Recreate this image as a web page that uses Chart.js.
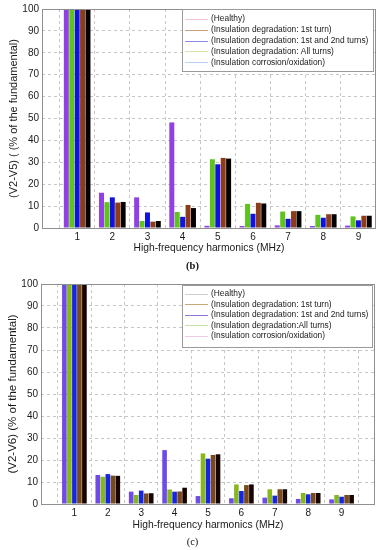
<!DOCTYPE html>
<html><head><meta charset="utf-8">
<script src="https://cdn.jsdelivr.net/npm/chart.js@4/dist/chart.umd.min.js"></script>
<style>
html,body{margin:0;padding:0;background:#fff}
body{width:381px;height:550px;position:relative;overflow:hidden;font-family:"Liberation Sans",Arial,sans-serif}
.wrap{position:absolute;left:0;width:381px;height:275px}
.cap{position:absolute;left:2px;width:381px;text-align:center;font-family:"Liberation Serif","Times New Roman",serif;font-size:10.5px;color:#111}
</style></head><body>
<div class="wrap" style="top:0"><canvas id="cb" width="381" height="275"></canvas></div>
<div class="cap" style="top:260px;font-weight:bold">(b)</div>
<div class="wrap" style="top:275px"><canvas id="cc" width="381" height="275"></canvas></div>
<div class="cap" style="top:536px">(c)</div>
<script>
// ---- data ----
const harmonics = [1, 2, 3, 4, 5, 6, 7, 8, 9];
const seriesNamesB = ['(Healthy)', '(Insulation degradation: 1st turn)', '(Insulation degradation: 1st and 2nd turns)', '(Insulation degradation: All turns)', '(Insulation corrosion/oxidation)'];
const seriesNamesC = ['(Healthy)', '(Insulation degradation: 1st turn)', '(Insulation degradation: 1st and 2nd turns)', '(Insulation degradation:All turns)', '(Insulation corrosion/oxidation)'];

// (b) V2-V5
const b_healthy   = [100, 16.1, 14.0, 48.2, 1.0, 0.9, 1.2, 0.9, 1.1];
const b_deg1st    = [100, 11.8, 3.2, 7.3, 31.4, 11.0, 7.5, 6.0, 5.3];
const b_deg12     = [100, 14.0, 7.1, 5.1, 29.1, 6.5, 4.2, 4.7, 3.5];
const b_degAll    = [100, 11.6, 2.9, 10.5, 32.0, 11.5, 7.7, 6.3, 5.6];
const b_corrosion = [100, 11.9, 3.2, 9.1, 31.7, 11.2, 7.7, 6.3, 5.6];

// (c) V2-V6
const c_healthy   = [100, 13.2, 5.6, 24.5, 3.6, 2.6, 2.9, 2.3, 2.1];
const c_deg1st    = [100, 12.4, 4.1, 6.6, 23.0, 8.9, 6.7, 5.0, 4.1];
const c_deg12     = [100, 13.6, 6.1, 5.6, 20.6, 5.9, 3.8, 4.4, 3.3];
const c_degAll    = [100, 12.9, 4.8, 5.7, 22.3, 8.6, 6.7, 5.0, 4.1];
const c_corrosion = [100, 12.8, 4.9, 7.4, 22.6, 8.9, 6.7, 5.0, 4.1];

const yTicks = [0, 10, 20, 30, 40, 50, 60, 70, 80, 90, 100];

// ---- styles ----
const barColorsB = ['#9140e4', '#5ec41c', '#1212e0', '#8c3c18', '#050000'];
const barColorsC = ['#6e4ae6', '#86b81e', '#1626e0', '#7a4a1c', '#160400'];
const legColorsB = ['#f2c4d6', '#c9a27e', '#8a8ae6', '#d6e4a8', '#bcd0f2'];
const legColorsC = ['#cfcfcf', '#c8a676', '#9474d8', '#c4e2a8', '#eccbe8'];

const FONT = '"Liberation Sans", Arial, Helvetica, sans-serif';

const framePlugin = {
  id: 'frameAndLegend',
  afterDraw(chart, args, opts) {
    const ctx = chart.ctx, a = chart.chartArea;
    ctx.save();
    ctx.strokeStyle = '#8f8f8f';
    ctx.lineWidth = 1;
    ctx.strokeRect(Math.round(a.left) + 0.5, Math.round(a.top) + 0.5, Math.round(a.right - a.left) - 1, Math.round(a.bottom - a.top));
    // legend box
    const L = opts;
    ctx.fillStyle = '#ffffff';
    ctx.fillRect(L.x, L.y, L.w, L.h);
    ctx.strokeStyle = '#9a9a9a';
    ctx.strokeRect(L.x + 0.5, L.y + 0.5, L.w, L.h);
    ctx.font = L.fontSize + 'px ' + FONT;
    ctx.textBaseline = 'middle';
    ctx.textAlign = 'left';
    chart.data.datasets.forEach((ds, i) => {
      const yy = L.y + L.first + i * L.step;
      ctx.strokeStyle = L.colors[i];
      ctx.lineWidth = 1;
      ctx.beginPath();
      ctx.moveTo(L.x + 3, Math.round(yy) + 0.5);
      ctx.lineTo(L.x + 26, Math.round(yy) + 0.5);
      ctx.stroke();
      ctx.fillStyle = '#1a1a1a';
      ctx.fillText(ds.label, L.x + 29, yy);
    });
    ctx.restore();
  }
};

function makeChart(id, names, series, colors, legColors, cfg) {
  const datasets = series.map((vals, i) => ({
    label: names[i],
    data: harmonics.map((h, j) => ({x: h, y: vals[j]})),
    backgroundColor: colors[i],
    borderWidth: 0,
    categoryPercentage: cfg.catPct,
    barPercentage: 0.92
  }));
  return new Chart(document.getElementById(id), {
    type: 'bar',
    data: {datasets},
    plugins: [framePlugin],
    options: {
      responsive: false,
      animation: false,
      layout: {padding: {left: 0, right: cfg.padRight, top: cfg.padTop, bottom: cfg.padBottom}},
      plugins: {
        legend: {display: false},
        tooltip: {enabled: false},
        frameAndLegend: cfg.legend
      },
      scales: {
        x: {
          type: 'linear',
          min: 0, max: cfg.xMax,
          offset: false,
          afterFit: s => { s.height = 28; },
          ticks: {
            stepSize: 1, autoSkip: false, includeBounds: false, padding: 3,
            color: '#1a1a1a', font: {family: FONT, size: 10},
            callback: v => (harmonics.includes(v) ? String(v) : '')
          },
          grid: {color: '#c6c6c6', drawTicks: false, lineWidth: 1},
          border: {display: false, dash: [3, 3]},
          title: {display: true, text: 'High-frequency harmonics (MHz)', color: '#1a1a1a',
                  font: {family: FONT, size: 10.3}, padding: {top: 0, bottom: cfg.xTitlePad}}
        },
        y: {
          min: 0, max: 100,
          afterFit: s => { s.width = cfg.yWidth; },
          afterBuildTicks: s => { s.ticks = yTicks.map(v => ({value: v})); },
          ticks: {padding: 3, color: '#1a1a1a', font: {family: FONT, size: 10}},
          grid: {color: '#c6c6c6', drawTicks: false, lineWidth: 1},
          border: {display: false, dash: [3, 3]},
          title: {display: true, text: cfg.yTitle, color: '#1a1a1a',
                  font: {family: FONT, size: cfg.yTitleSize}, padding: {top: cfg.yTitlePad, bottom: 0}}
        }
      }
    }
  });
}

makeChart('cb', seriesNamesB, [b_healthy, b_deg1st, b_deg12, b_degAll, b_corrosion], barColorsB, legColorsB, {
  xMax: 9.5, catPct: 0.77, padRight: 5, padTop: 7, padBottom: 19, yWidth: 42, xTitlePad: 2,
  yTitle: '(V2-V5) ( (% of the fundamental)', yTitleSize: 11, yTitlePad: 7.5,
  legend: {x: 182, y: 9, w: 191, h: 62, first: 10, step: 10.8, fontSize: 8.4, colors: legColorsB}
});
makeChart('cc', seriesNamesC, [c_healthy, c_deg1st, c_deg12, c_degAll, c_corrosion], barColorsC, legColorsC, {
  xMax: 10, catPct: 0.75, padRight: 6, padTop: 9, padBottom: 18, yWidth: 41, xTitlePad: 1,
  yTitle: '(V2-V6) (% of the fundamental)', yTitleSize: 11.5, yTitlePad: 5.5,
  legend: {x: 182, y: 10, w: 190, h: 62, first: 9, step: 10.4, fontSize: 8.4, colors: legColorsC}
});
</script>
</body></html>
